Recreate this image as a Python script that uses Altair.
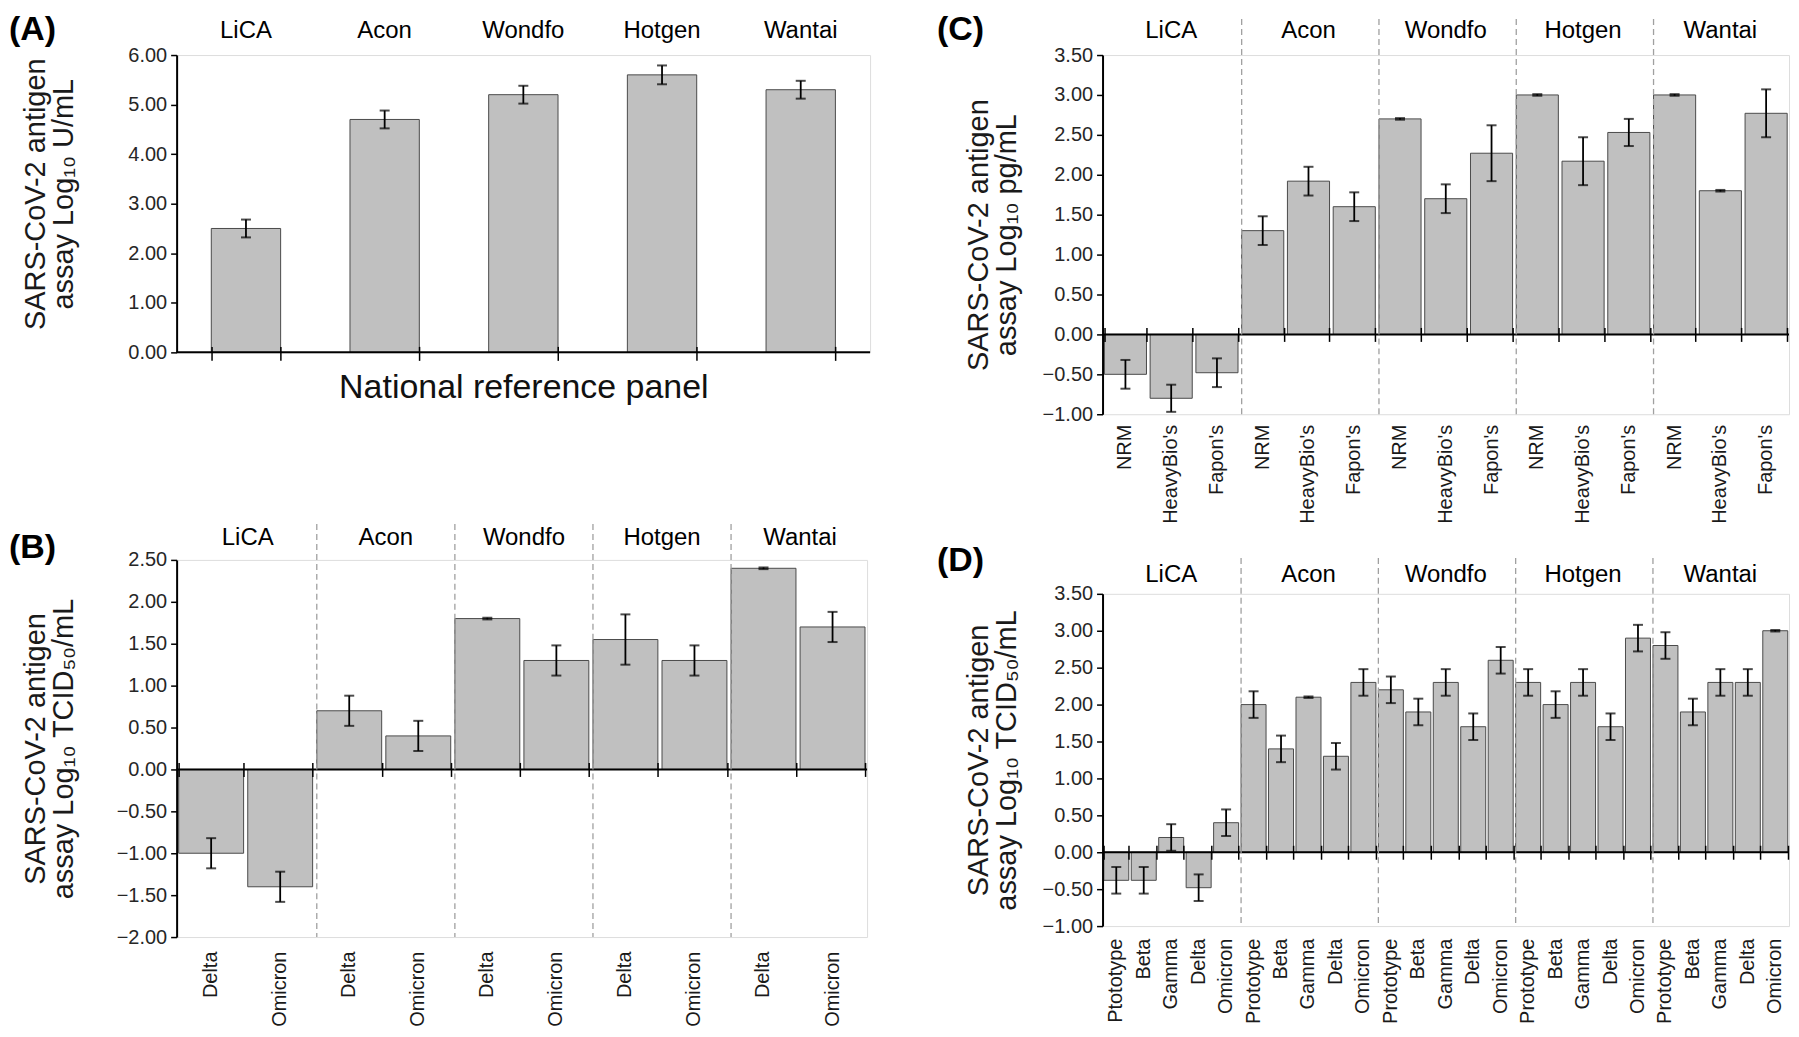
import altair as alt
import pandas as pd

FONT = "Liberation Sans"

makers = ["LiCA", "Acon", "Wondfo", "Hotgen", "Wantai"]

# ---- Panel A: national reference panel ----
a_vals = [2.50, 4.70, 5.20, 5.60, 5.30]
a_errs = [0.18, 0.18, 0.18, 0.19, 0.18]

# ---- Panel B: virus strains (Log10 TCID50/mL) ----
b_samples = ["Delta", "Omicron"]
b_vals = [-1.00, -1.40, 0.70, 0.40, 1.80, 1.30, 1.55, 1.30, 2.40, 1.70]
b_errs = [0.18, 0.18, 0.18, 0.18, 0.01, 0.18, 0.30, 0.18, 0.01, 0.18]

# ---- Panel C: recombinant antigens (Log10 pg/mL) ----
c_samples = ["NRM", "HeavyBio's", "Fapon's"]
c_vals = [-0.50, -0.80, -0.48, 1.30, 1.92, 1.60, 2.70, 1.70, 2.27,
          3.00, 2.17, 2.53, 3.00, 1.80, 2.77]
c_errs = [0.18, 0.17, 0.18, 0.18, 0.18, 0.18, 0.01, 0.18, 0.35,
          0.01, 0.30, 0.17, 0.01, 0.01, 0.30]

# ---- Panel D: variants (Log10 TCID50/mL) ----
d_samples_lica = ["Ptototype", "Beta", "Gamma", "Delta", "Omicron"]
d_samples = ["Prototype", "Beta", "Gamma", "Delta", "Omicron"]
d_vals = [-0.38, -0.38, 0.20, -0.48, 0.40,
          2.00, 1.40, 2.10, 1.30, 2.30,
          2.20, 1.90, 2.30, 1.70, 2.60,
          2.30, 2.00, 2.30, 1.70, 2.90,
          2.80, 1.90, 2.30, 2.30, 3.00]
d_errs = [0.18, 0.18, 0.18, 0.18, 0.18,
          0.18, 0.18, 0.01, 0.18, 0.18,
          0.18, 0.18, 0.18, 0.18, 0.18,
          0.18, 0.18, 0.18, 0.18, 0.18,
          0.18, 0.18, 0.18, 0.18, 0.01]

a_ticks = [0, 1, 2, 3, 4, 5, 6]
b_ticks = [-2.0, -1.5, -1.0, -0.5, 0.0, 0.5, 1.0, 1.5, 2.0, 2.5]
cd_ticks = [-1.0, -0.5, 0.0, 0.5, 1.0, 1.5, 2.0, 2.5, 3.0, 3.5]

TITLE_A = ["SARS-CoV-2 antigen", "assay Log\u2081\u2080 U/mL"]
TITLE_B = ["SARS-CoV-2 antigen", "assay Log\u2081\u2080 TCID\u2085\u2080/mL"]
TITLE_C = ["SARS-CoV-2 antigen", "assay Log\u2081\u2080 pg/mL"]


def make_panel(keys, vals, errs, hdr_keys, hdr_names, hdr_bp, div_keys,
               ymin, ymax, yvals, width, height, pad_inner, ytitle, title_x,
               title_dy, letter, letter_x, letter_y, hdr_y, show_xlabels,
               xtitle=None, label_pad=12, zero_above=7):
    df = pd.DataFrame({"key": keys, "val": vals, "err": errs})
    xs = alt.Scale(domain=keys, paddingInner=pad_inner, paddingOuter=pad_inner / 2)
    ys = alt.Scale(domain=[ymin, ymax], nice=False, zero=False)

    y_axis = alt.Axis(
        values=yvals, format=".2f", grid=False,
        domainColor="black", domainWidth=2,
        tickColor="black", tickWidth=1.5, tickSize=6,
        labelFont=FONT, labelFontSize=20, labelColor="#262626", labelPadding=4,
        title=ytitle, titleFont=FONT, titleFontSize=29, titleFontWeight="normal",
        titleColor="#1a1a1a", titleX=title_x, titleY=height / 2 + title_dy,
        titleBaseline="middle", titleLineHeight=28, zindex=1,
    )

    if show_xlabels:
        bottom_axis = alt.Axis(
            labelExpr="split(datum.label, '|')[1]", labelAngle=-90,
            labelAlign="right", labelBaseline="middle", labelPadding=label_pad,
            labelFont=FONT, labelFontSize=20, labelColor="#1a1a1a",
            labelOverlap=False, domain=False, ticks=False, title=None, grid=False,
        )
    else:
        bottom_axis = alt.Axis(
            labels=False, ticks=False, domain=False, grid=False,
            title=xtitle, titleFont=FONT, titleFontSize=34,
            titleFontWeight="normal", titleColor="#111111",
            titleY=35, titleBaseline="middle",
        )

    y0 = height * (ymax - 0) / (ymax - ymin)
    zero_axis = alt.Axis(
        orient="bottom", labels=False, domain=False, ticks=True,
        tickBand="extent", tickSize=14, tickWidth=1.5, tickColor="black",
        offset=y0 - zero_above - height, title=None, grid=False, zindex=2,
    )

    base = alt.Chart(df).transform_calculate(
        lo="datum.val - datum.err", hi="datum.val + datum.err"
    )

    bars = base.mark_bar(fill="#c0c0c0", stroke="#4a4a4a", strokeWidth=1).encode(
        x=alt.X("key:N", scale=xs, axis=bottom_axis),
        y=alt.Y("val:Q", scale=ys, axis=y_axis),
    )
    err_rule = base.mark_rule(color="black", strokeWidth=1.8).encode(
        x=alt.X("key:N", scale=xs, axis=zero_axis),
        y=alt.Y("lo:Q", scale=ys, axis=None),
        y2="hi:Q",
    )
    cap_lo = base.mark_tick(color="black", thickness=2, size=10, orient="horizontal").encode(
        x=alt.X("key:N", scale=xs, axis=None),
        y=alt.Y("lo:Q", scale=ys, axis=None),
    )
    cap_hi = base.mark_tick(color="black", thickness=2, size=10, orient="horizontal").encode(
        x=alt.X("key:N", scale=xs, axis=None),
        y=alt.Y("hi:Q", scale=ys, axis=None),
    )
    zero = alt.Chart(pd.DataFrame({"z": [0.0]})).mark_rule(color="black", strokeWidth=2).encode(
        y=alt.Y("z:Q", scale=ys, axis=None),
        x=alt.value(0), x2=alt.value(width),
    )
    hdr = alt.Chart(pd.DataFrame({"key": hdr_keys, "name": hdr_names})).mark_text(
        font=FONT, fontSize=24, baseline="middle", align="center", color="black"
    ).encode(
        x=alt.X("key:N", scale=xs, axis=None, bandPosition=hdr_bp),
        y=alt.value(hdr_y),
        text="name:N",
    )
    lab = alt.Chart(pd.DataFrame({"t": [letter]})).mark_text(
        font=FONT, fontSize=34, fontWeight="bold", align="left", baseline="middle",
        color="black",
    ).encode(text="t:N", x=alt.value(letter_x), y=alt.value(letter_y))

    layers = [bars, err_rule, cap_lo, cap_hi, zero, hdr, lab]
    if div_keys:
        div = alt.Chart(pd.DataFrame({"key": div_keys})).mark_rule(
            color="#a0a0a0", strokeDash=[6, 4], strokeWidth=1.3
        ).encode(
            x=alt.X("key:N", scale=xs, axis=None, bandPosition=0),
            y=alt.value(-36), y2=alt.value(height),
        )
        layers.append(div)

    return alt.layer(*layers).resolve_axis(x="independent", y="independent").properties(
        width=width, height=height
    )


# Panel A
a_chart = make_panel(
    makers, a_vals, a_errs, makers, makers, 0.5, [],
    0, 6, a_ticks, 695, 298, 0.5, TITLE_A, -141, -10, "(A)", -168, -25, -24,
    show_xlabels=False, xtitle="National reference panel", zero_above=6,
)

# Panel B
b_keys = [f"{m}|{s}" for m in makers for s in b_samples]
b_chart = make_panel(
    b_keys, b_vals, b_errs, [f"{m}|Omicron" for m in makers], makers, 0,
    [f"{m}|Delta" for m in makers[1:]],
    -2.0, 2.5, b_ticks, 692, 378, 0.06, TITLE_B, -141, 0, "(B)", -168, -12, -22,
    show_xlabels=True, label_pad=14,
)

# Panel C
c_keys = [f"{m}|{s}" for m in makers for s in c_samples]
c_chart = make_panel(
    c_keys, c_vals, c_errs, [f"{m}|HeavyBio's" for m in makers], makers, 0.5,
    [f"{m}|NRM" for m in makers[1:]],
    -1.0, 3.5, cd_ticks, 688, 360, 0.08, TITLE_C, -124, 0, "(C)", -166, -25, -24,
    show_xlabels=True, label_pad=10,
)

# Panel D
d_keys = [f"{m}|{s}" for m in makers for s in (d_samples_lica if m == "LiCA" else d_samples)]
d_chart = make_panel(
    d_keys, d_vals, d_errs, [f"{m}|Gamma" for m in makers], makers, 0.5,
    [d_keys[i * 5] for i in range(1, 5)],
    -1.0, 3.5, cd_ticks, 688, 333, 0.09, TITLE_B, -124, 0, "(D)", -166, -33, -19,
    show_xlabels=True, label_pad=12,
)

left = alt.vconcat(a_chart, b_chart, spacing=208, bounds="flush").resolve_scale(
    x="independent", y="independent")
right = alt.vconcat(c_chart, d_chart, spacing=180, bounds="flush").resolve_scale(
    x="independent", y="independent")

# with flush bounds the nested columns report no width, so the spacing is the
# distance between the left edges of the two columns' plot areas
chart = alt.hconcat(
    left, right, spacing=928, bounds="flush",
    padding={"left": 0, "top": 3, "right": 0, "bottom": 0},
).resolve_scale(x="independent", y="independent").configure_view(
    stroke="#a8a8a8", strokeWidth=1.5
).configure(background="white")

chart.save("out.html", embed_options={"renderer": "svg", "actions": False})
